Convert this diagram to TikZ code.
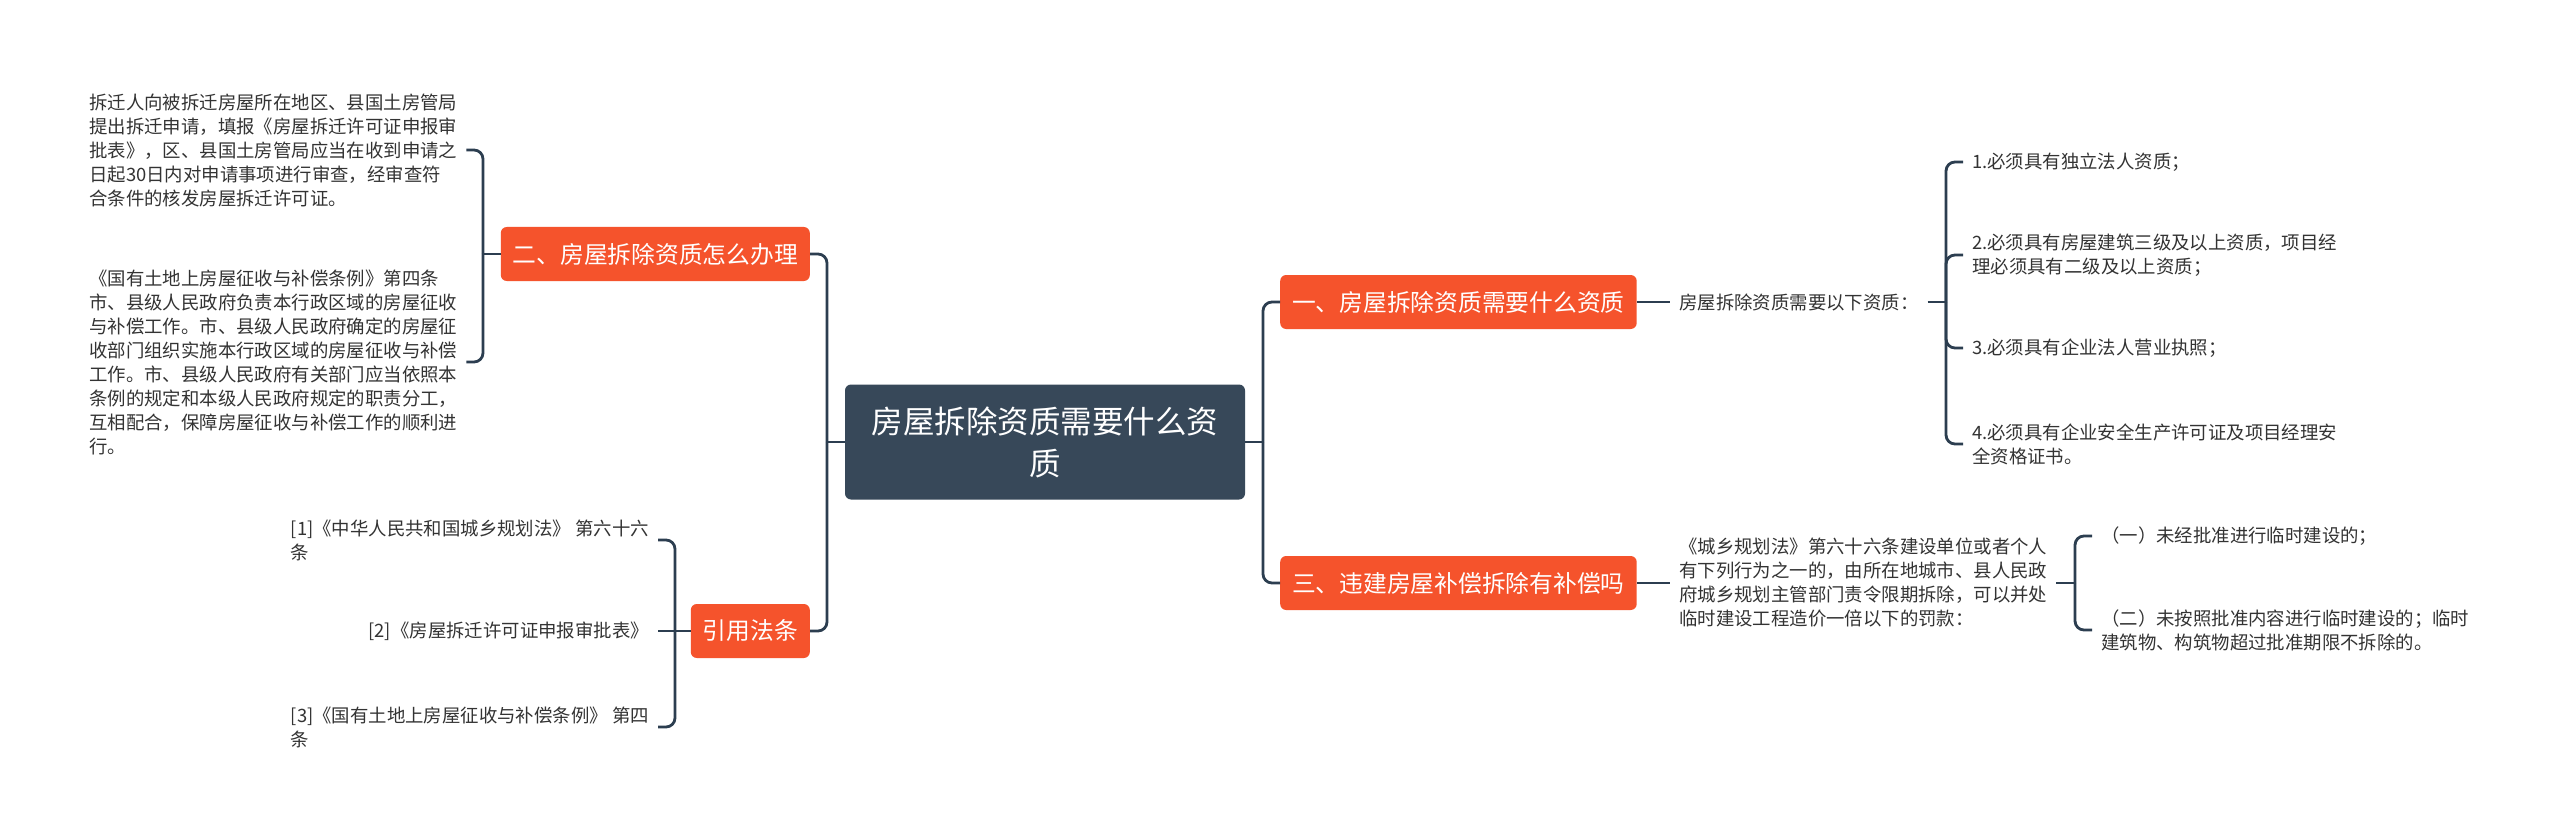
\documentclass[tikz,border=0pt]{standalone}
\usepackage{fontspec}
\newfontfamily\cjk{Noto Sans CJK SC}
\definecolor{brorange}{RGB}{245,83,44}
\definecolor{rootcol}{RGB}{55,72,89}
\definecolor{linecol}{RGB}{44,62,80}
\definecolor{txtcol}{RGB}{51,51,51}
\begin{document}
\begin{tikzpicture}[x=1pt,y=-1pt,
  conn/.style={draw=linecol,line width=2.8pt,rounded corners=9pt},
  root/.style={fill=rootcol,text=white,rounded corners=6pt,minimum width=400pt,minimum height=115pt,align=center,font=\cjk\fontsize{31.5}{42}\selectfont},
  branch/.style={fill=brorange,text=white,rounded corners=6pt,minimum height=54pt,inner xsep=12pt,font=\cjk\fontsize{23.75}{28}\selectfont},
  leaf/.style={text=txtcol,align=left,inner xsep=9pt,inner ysep=2pt,font=\cjk\fontsize{18.4}{24}\selectfont}]
\fill[white] (0,0) rectangle (2560,837);
\useasboundingbox (0,0) rectangle (2560,837);

% root and branches
\node[root] (C) at (1045,442) {房屋拆除资质需要什么资\\质};
\node[branch,anchor=east] (B2) at (810,254) {二、房屋拆除资质怎么办理};
\node[branch,anchor=east] (B4) at (810,631) {引用法条};
\node[branch,anchor=west] (B1) at (1280,302) {一、房屋拆除资质需要什么资质};
\node[branch,anchor=west] (B3) at (1280,583) {三、违建房屋补偿拆除有补偿吗};

\coordinate (jL) at (827,442);
\coordinate (jR) at (1263,442);
\draw[conn] (C.west) -- (jL);
\draw[conn] (jL) |- (B2.east);
\draw[conn] (jL) |- (B4.east);
\draw[conn] (C.east) -- (jR);
\draw[conn] (jR) |- (B1.west);
\draw[conn] (jR) |- (B3.west);

% leaves of B2
\node[leaf,anchor=west] (L1) at (80,150) {拆迁人向被拆迁房屋所在地区、县国土房管局\\提出拆迁申请，填报《房屋拆迁许可证申报审\\批表》，区、县国土房管局应当在收到申请之\\日起30日内对申请事项进行审查，经审查符\\合条件的核发房屋拆迁许可证。};
\node[leaf,anchor=west] (L2) at (80,362) {《国有土地上房屋征收与补偿条例》第四条\\市、县级人民政府负责本行政区域的房屋征收\\与补偿工作。市、县级人民政府确定的房屋征\\收部门组织实施本行政区域的房屋征收与补偿\\工作。市、县级人民政府有关部门应当依照本\\条例的规定和本级人民政府规定的职责分工，\\互相配合，保障房屋征收与补偿工作的顺利进\\行。};
\coordinate (k2) at (483,254);
\draw[conn] (B2.west) -- (k2);
\draw[conn] (k2) |- (L1.east);
\draw[conn] (k2) |- (L2.east);

% leaves of B4
\node[leaf,anchor=east] (R1) at (658,540) {[1]《中华人民共和国城乡规划法》 第六十六\\条};
\node[leaf,anchor=east] (R2) at (658,631) {[2]《房屋拆迁许可证申报审批表》};
\node[leaf,anchor=east] (R3) at (658,727) {[3]《国有土地上房屋征收与补偿条例》 第四\\条};
\coordinate (k4) at (675,631);
\draw[conn] (B4.west) -- (k4);
\draw[conn] (k4) |- (R1.east);
\draw[conn] (k4) -- (R2.east);
\draw[conn] (k4) |- (R3.east);

% B1 subtree
\node[leaf,anchor=west] (S1) at (1670,302) {房屋拆除资质需要以下资质：};
\draw[conn] (B1.east) -- (S1.west);
\coordinate (k1) at (1946,302);
\draw[conn] (S1.east) -- (k1);
\node[leaf,anchor=west] (I1) at (1963,162) {1.必须具有独立法人资质；};
\node[leaf,anchor=west] (I2) at (1963,255) {2.必须具有房屋建筑三级及以上资质，项目经\\理必须具有二级及以上资质；};
\node[leaf,anchor=west] (I3) at (1963,348) {3.必须具有企业法人营业执照；};
\node[leaf,anchor=west] (I4) at (1963,444) {4.必须具有企业安全生产许可证及项目经理安\\全资格证书。};
\draw[conn] (k1) |- (I1.west);
\draw[conn] (k1) |- (I2.west);
\draw[conn] (k1) |- (I3.west);
\draw[conn] (k1) |- (I4.west);

% B3 subtree
\node[leaf,anchor=west] (S3) at (1670,583) {《城乡规划法》第六十六条建设单位或者个人\\有下列行为之一的，由所在地城市、县人民政\\府城乡规划主管部门责令限期拆除，可以并处\\临时建设工程造价一倍以下的罚款：};
\draw[conn] (B3.east) -- (S3.west);
\coordinate (k3) at (2075,583);
\draw[conn] (S3.east) -- (k3);
\node[leaf,anchor=west] (J1) at (2092,536) {（一）未经批准进行临时建设的；};
\node[leaf,anchor=west] (J2) at (2092,630) {（二）未按照批准内容进行临时建设的；临时\\建筑物、构筑物超过批准期限不拆除的。};
\draw[conn] (k3) |- (J1.west);
\draw[conn] (k3) |- (J2.west);
\end{tikzpicture}
\end{document}
